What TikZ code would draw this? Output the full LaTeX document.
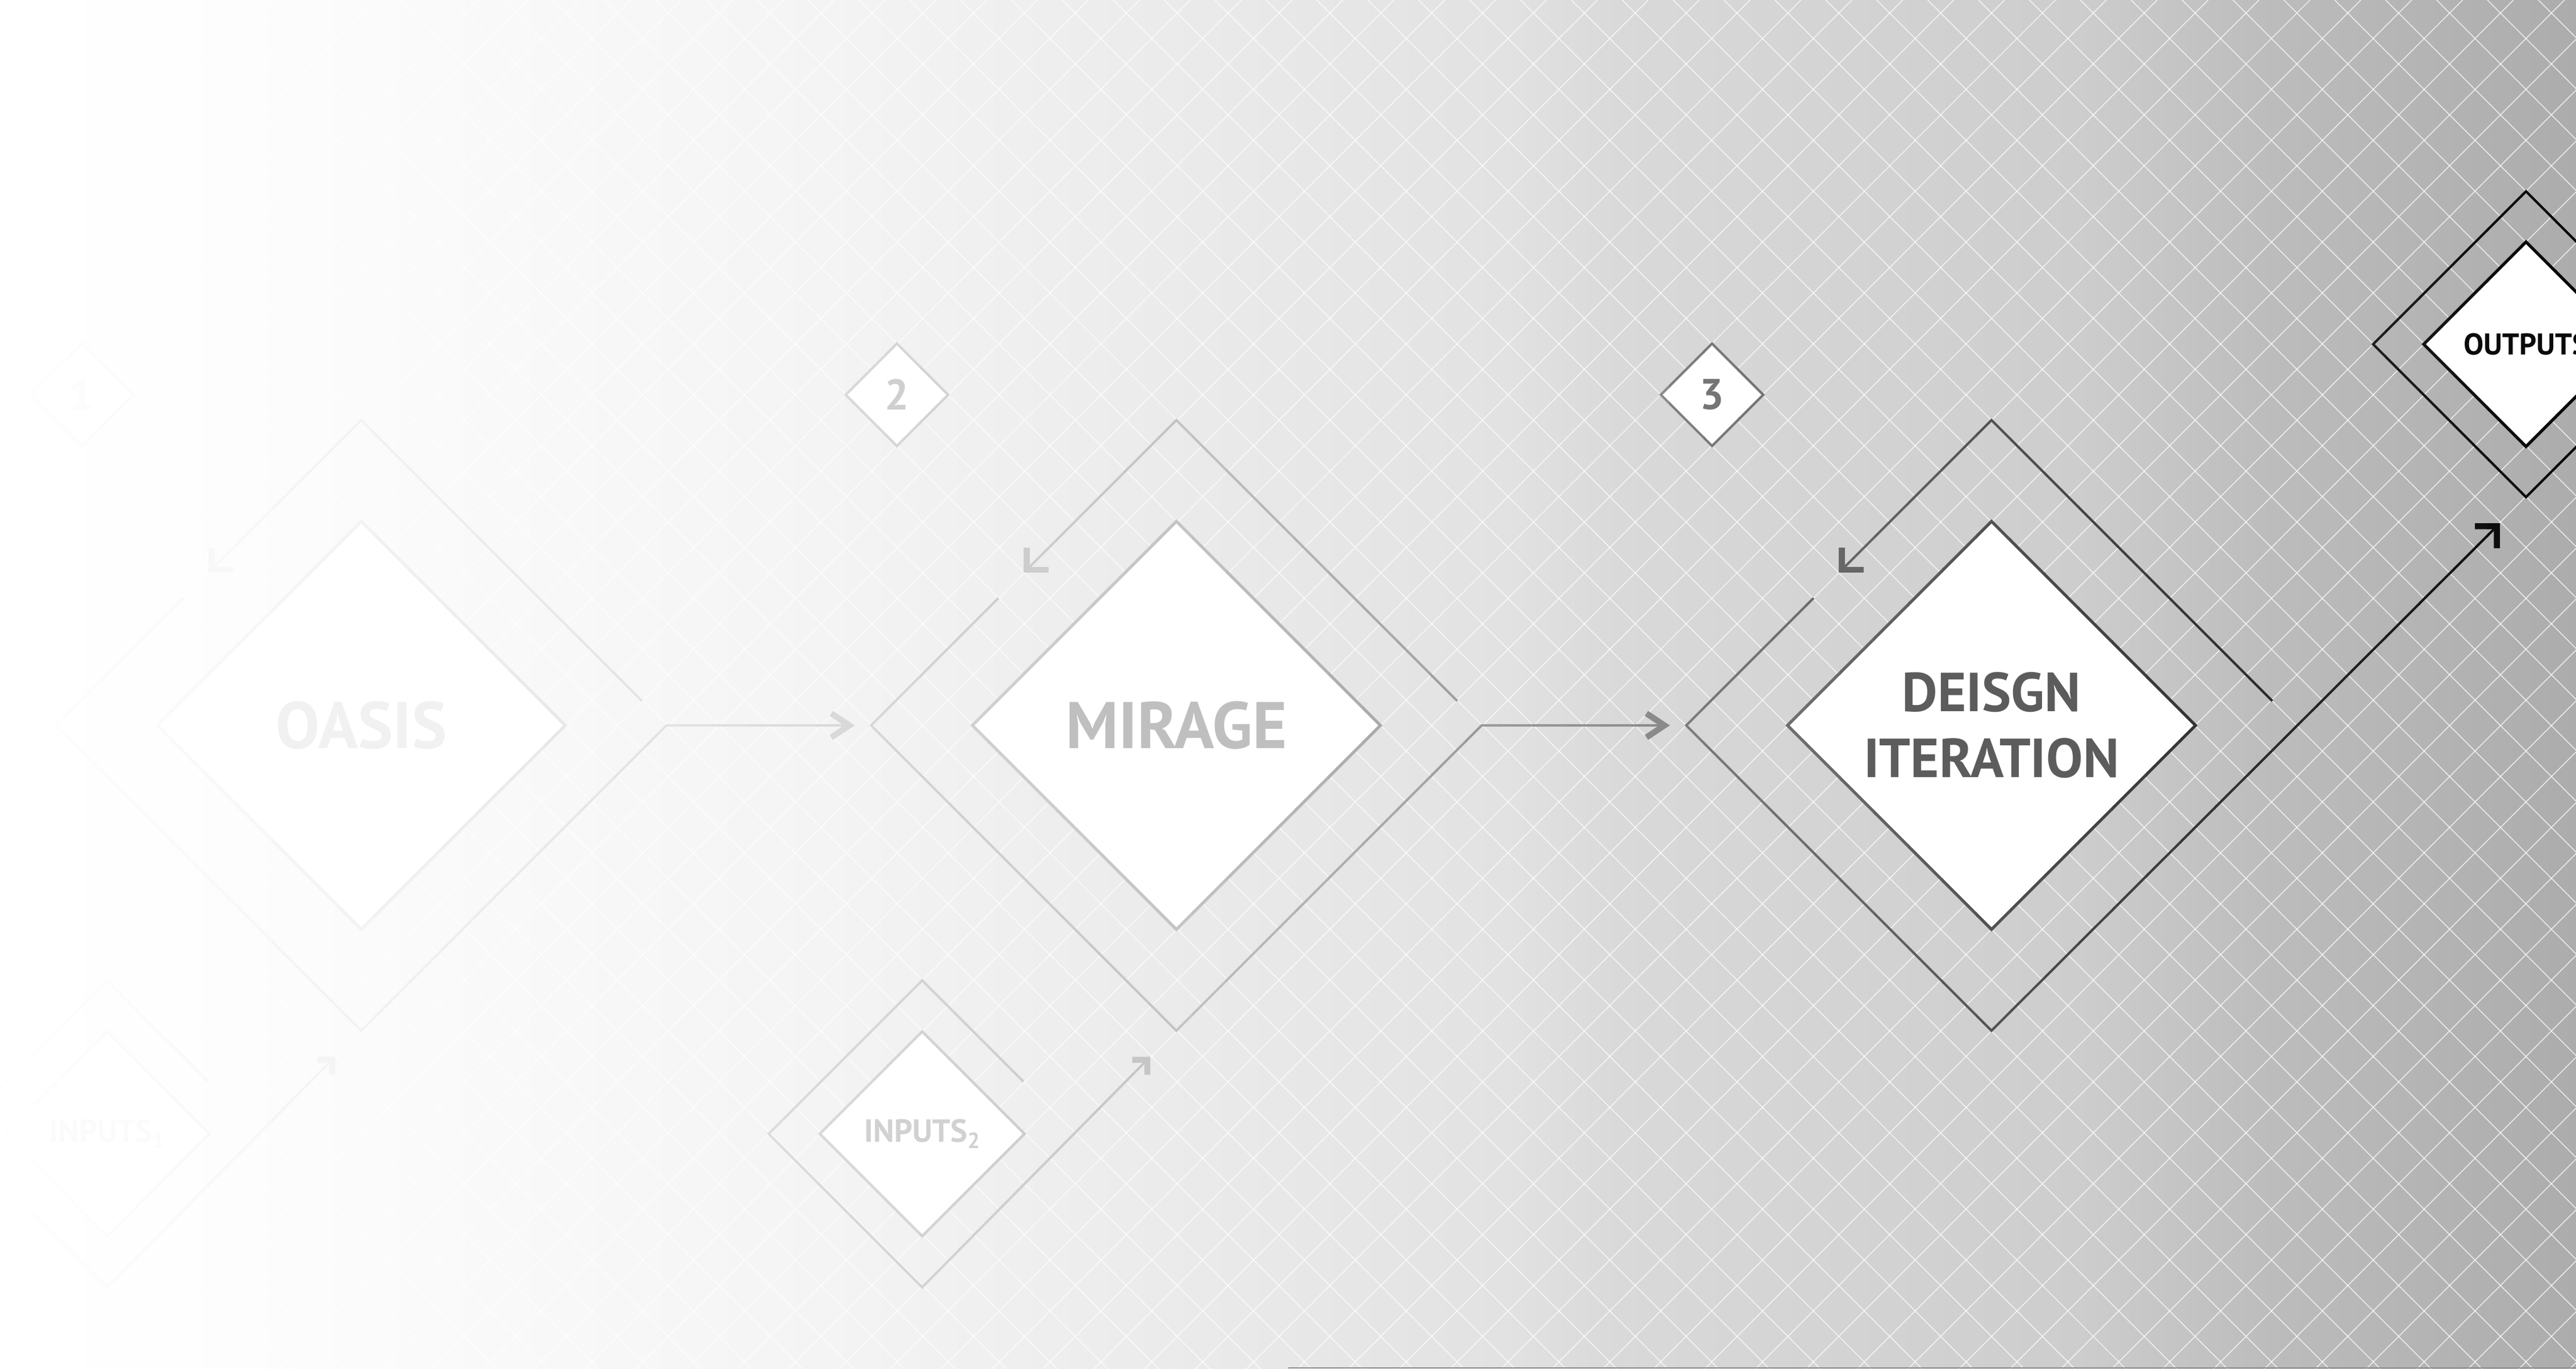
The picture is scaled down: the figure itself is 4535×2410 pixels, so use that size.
\documentclass[tikz,border=0pt]{standalone}
\usepackage{fontspec}
\setmainfont{PT Sans}
\usetikzlibrary{arrows.meta,positioning,shapes.geometric,calc}

% grey wash behind everything
\pgfdeclarehorizontalshading{bgshade}{100bp}{color(0bp)=(white); color(25bp)=(white);
  color(28.31bp)=(white!99.6!black); color(40.99bp)=(white!95.7!black);
  color(54.22bp)=(white!88.6!black); color(56.42bp)=(white!85.1!black);
  color(65.35bp)=(white!80.4!black); color(69.10bp)=(white!73.7!black);
  color(75bp)=(white!67.5!black); color(100bp)=(white!67.5!black)}

\definecolor{oasisink}{gray}{0.945}
\definecolor{mirageink}{gray}{0.75}
\definecolor{designink}{gray}{0.36}
\definecolor{inputsoneink}{gray}{0.985}
\definecolor{inputstwoink}{gray}{0.82}
\definecolor{outputsink}{gray}{0.04}
\definecolor{badgeoneink}{gray}{0.99}
\definecolor{badgetwoink}{gray}{0.81}
\definecolor{badgethreeink}{gray}{0.46}

\newcommand{\subidx}[1]{\raisebox{-3pt}{\fontsize{11}{11}\selectfont #1}}

% every outline and connector, drawn once per colour band
\newcommand{\stagestrokes}{%
\draw[boxline] (oasis.north) -- (oasis.east) -- (oasis.south) -- (oasis.west) -- cycle;
\draw[boxline] (mirage.north) -- (mirage.east) -- (mirage.south) -- (mirage.west) -- cycle;
\draw[boxline] (design.north) -- (design.east) -- (design.south) -- (design.west) -- cycle;
\draw[boxline, line width=1.3pt] (inputs1.north) -- (inputs1.east) -- (inputs1.south) -- (inputs1.west) -- cycle;
\draw[boxline, line width=1.3pt] (inputs2.north) -- (inputs2.east) -- (inputs2.south) -- (inputs2.west) -- cycle;
\draw[boxline] (outputs.north) -- (outputs.east) -- (outputs.south) -- (outputs.west) -- cycle;
\draw[boxline, line width=1.2pt] (badge1.north) -- (badge1.east) -- (badge1.south) -- (badge1.west) -- cycle;
\draw[boxline, line width=1.2pt] (badge2.north) -- (badge2.east) -- (badge2.south) -- (badge2.west) -- cycle;
\draw[boxline, line width=1.2pt] (badge3.north) -- (badge3.east) -- (badge3.south) -- (badge3.west) -- cycle;
% iteration loops
\draw[loopback] ($(oasis-ring.north)!0.92!(oasis-ring.east)$) -- (oasis-ring.north) -- ($(oasis-ring.north)!0.5!(oasis-ring.west)$);
\draw[loopback] ($(mirage-ring.north)!0.92!(mirage-ring.east)$) -- (mirage-ring.north) -- ($(mirage-ring.north)!0.5!(mirage-ring.west)$);
\draw[loopback] ($(design-ring.north)!0.92!(design-ring.east)$) -- (design-ring.north) -- ($(design-ring.north)!0.5!(design-ring.west)$);
% stage to stage
\draw[handoff] ($(oasis-ring.north)!0.583!(oasis-ring.west)$) -- (oasis-ring.west) -- (oasis-ring.south) -- (oasis-ring.east) -- ([xshift=-0.29cm]mirage-ring.west);
\draw[handoff] ($(mirage-ring.north)!0.583!(mirage-ring.west)$) -- (mirage-ring.west) -- (mirage-ring.south) -- (mirage-ring.east) -- ([xshift=-0.29cm]design-ring.west);
\draw[loopback] ($(design-ring.north)!0.583!(design-ring.west)$) -- (design-ring.west) -- (design-ring.south) -- ($(outputs-ring.south)+(-46,46)$);
% inputs
\draw[intake] ($(inputs1-ring.north)!0.66!(inputs1-ring.east)$) -- (inputs1-ring.north) -- (inputs1-ring.west) -- (inputs1-ring.south) -- ($(oasis-ring.south)+(-46,46)$);
\draw[intake] ($(inputs2-ring.north)!0.66!(inputs2-ring.east)$) -- (inputs2-ring.north) -- (inputs2-ring.west) -- (inputs2-ring.south) -- ($(mirage-ring.south)+(-46,46)$);
\draw[ringline] (outputs-ring.north) -- (outputs-ring.east) -- (outputs-ring.south) -- (outputs-ring.west) -- cycle;
}

\begin{document}
\begin{tikzpicture}[x=0.01cm, y=-0.01cm,
  declare function={ink(\x)=(\x<640) ? 255-12*(\x/640) : ((\x<1580) ? 243-29*((\x-640)/940) :
    ((\x<2070) ? 214-18*((\x-1580)/490) : ((\x<2500) ? 196-31*((\x-2070)/430) :
    ((\x<2600) ? 165-10*((\x-2500)/100) : ((\x<2900) ? 155-15*((\x-2600)/300) :
    ((\x<2970) ? 140-15*((\x-2900)/70) : ((\x<3300) ? 125-25*((\x-2970)/330) :
    ((\x<3600) ? 100-25*((\x-3300)/300) : ((\x<3900) ? 75-25*((\x-3600)/300) :
    ((\x<4200) ? 50-22*((\x-3900)/300) : ((\x<4400) ? 28-16*((\x-4200)/200) : 12-4*((\x-4400)/135))))))))))));},
  whitebox/.style={diamond, aspect=1, fill=white, inner sep=0pt, outer sep=0pt},
  ringbox/.style={diamond, aspect=1, inner sep=0pt, outer sep=0pt},
  gridline/.style={white, opacity=0.75, line width=0.45pt},
  boxline/.style={line width=1.5pt, line join=miter},
  ringline/.style={line width=1.2pt, line join=miter},
  handoff/.style={ringline, -{Straight Barb[length=9pt, width=12pt, line width=3pt]}},
  loopback/.style={ringline, -{Straight Barb[angle=90:11pt, line width=3pt]}},
  intake/.style={ringline, -{Straight Barb[angle=90:7.5pt, line width=3pt]}},
  stagetext/.style={font=\bfseries\fontsize{33}{40}\selectfont, inner sep=0pt},
  smalltext/.style={font=\bfseries\fontsize{16}{19}\selectfont, inner sep=0pt},
  badgetext/.style={font=\bfseries\fontsize{21.5}{25}\selectfont, inner sep=0pt}]
\useasboundingbox (0,0) rectangle (4535,2410);
\clip (0,0) rectangle (4535,2410);
\shade[shading=bgshade] (0,0) rectangle (4535,2410);
\foreach \k in {-50,...,29} \draw[gridline] ({4425+89.6*\k},0) -- ({4425+89.6*\k-2410},2410);
\foreach \k in {-42,...,38} \draw[gridline] ({1243+89.6*\k},0) -- ({1243+89.6*\k+2410},2410);
\draw[white!56!black, line width=0.6pt] (2267.5,2408) -- (4535,2408);

% white faces
\node[whitebox, minimum size=7.18cm] (oasis) at (636,1277) {};
\node[whitebox, minimum size=7.18cm] (mirage) at (2071,1277) {};
\node[whitebox, minimum size=7.18cm] (design) at (3506,1277) {};
\node[whitebox, minimum size=3.6cm] (inputs1) at (188.5,1996) {};
\node[whitebox, minimum size=3.6cm] (inputs2) at (1623.5,1996) {};
\node[whitebox, minimum size=3.6cm] (outputs) at (4447,606) {};
\node[whitebox, minimum size=1.8cm] (badge1) at (144,695) {};
\node[whitebox, minimum size=1.8cm] (badge2) at (1579,695) {};
\node[whitebox, minimum size=1.8cm] (badge3) at (3014,695) {};
\node[ringbox, minimum size=10.74cm] (oasis-ring) at (oasis) {};
\node[ringbox, minimum size=10.74cm] (mirage-ring) at (mirage) {};
\node[ringbox, minimum size=10.74cm] (design-ring) at (design) {};
\node[ringbox, minimum size=5.4cm] (inputs1-ring) at (inputs1) {};
\node[ringbox, minimum size=5.4cm] (inputs2-ring) at (inputs2) {};
\node[ringbox, minimum size=5.38cm] (outputs-ring) at (outputs) {};

% outlines fade from white (left) to black (right)
\foreach \xa in {0,60,...,4500} {
  \pgfmathsetmacro{\gv}{ink(\xa+30)/255}
  \definecolor{band}{gray}{\gv}
  \begin{scope}
    \clip (\xa-1,0) rectangle (\xa+61,2410);
    \begin{scope}[color=band]
      \stagestrokes
    \end{scope}
  \end{scope}
}

\node[stagetext, text=oasisink] (oasis-label) at (oasis) {OASIS};
\node[stagetext, text=mirageink] (mirage-label) at (mirage) {MIRAGE};
\node[stagetext, text=designink, font=\bfseries\fontsize{27.5}{33}\selectfont, align=center] (design-label) at (design) {DEISGN\\ITERATION};
\node[smalltext, text=inputsoneink] (inputs1-label) at (inputs1) {INPUTS\subidx{1}};
\node[smalltext, text=inputstwoink] (inputs2-label) at (inputs2) {INPUTS\subidx{2}};
\node[smalltext, text=outputsink, font=\bfseries\fontsize{15}{18}\selectfont] (outputs-label) at (outputs) {OUTPUTS};
\node[badgetext, text=badgeoneink] (badge1-label) at (badge1) {1};
\node[badgetext, text=badgetwoink] (badge2-label) at (badge2) {2};
\node[badgetext, text=badgethreeink] (badge3-label) at (badge3) {3};
\end{tikzpicture}
\end{document}
